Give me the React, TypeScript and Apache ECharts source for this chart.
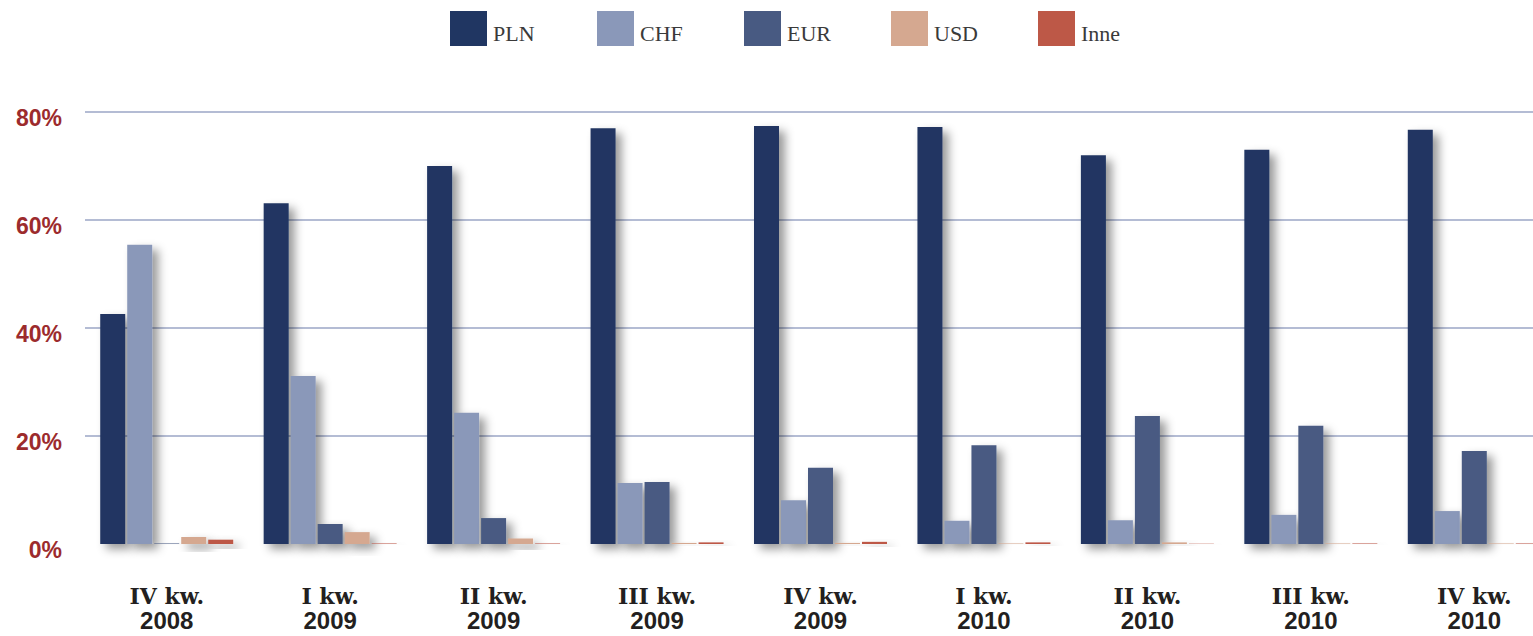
import React, { useEffect, useRef } from "react";
import * as echarts from "echarts";

// Quarterly share of new loans by currency (%)
const quarters = [
  ["IV kw.", "2008"],
  ["I kw.", "2009"],
  ["II kw.", "2009"],
  ["III kw.", "2009"],
  ["IV kw.", "2009"],
  ["I kw.", "2010"],
  ["II kw.", "2010"],
  ["III kw.", "2010"],
  ["IV kw.", "2010"],
];
const categories = quarters.map((q) => q.join("\n"));

const seriesNames = ["PLN", "CHF", "EUR", "USD", "Inne"];
const plnValues = [42.6, 63.1, 70.0, 77.0, 77.4, 77.2, 72.0, 73.0, 76.7];
const chfValues = [55.4, 31.1, 24.3, 11.3, 8.1, 4.3, 4.4, 5.4, 6.1];
const eurValues = [0.1, 3.7, 4.8, 11.5, 14.1, 18.3, 23.7, 21.9, 17.2];
const usdValues = [1.3, 2.2, 1.0, 0.2, 0.2, 0.1, 0.3, 0.1, 0.1];
const otherValues = [0.8, 0.1, 0.1, 0.3, 0.4, 0.3, 0.05, 0.1, 0.1];
const seriesValues = [plnValues, chfValues, eurValues, usdValues, otherValues];
const seriesColors = ["#203662", "#8a98b9", "#485a82", "#d5a890", "#bd5847"];

const yTicks = [0, 20, 40, 60, 80];
const gridColor = "#b4bcd4";

// Chart canvas is a bit wider than the visible frame so the last group keeps
// its full slot while the grid lines run to the frame's right edge.
const FRAME_W = 1533;
const CHART_W = 1560;
const CHART_H = 636;

export default function App() {
  const ref = useRef<HTMLDivElement>(null);

  useEffect(() => {
    if (!ref.current) return;
    const chart = echarts.init(ref.current, null, { renderer: "svg" });
    chart.setOption({
      animation: false,
      backgroundColor: "#ffffff",
      // one legend per currency so the items sit on an even pitch
      legend: seriesNames.map((name, i) => ({
        top: 11,
        left: 450 + i * 147,
        padding: 0,
        itemWidth: 37,
        itemHeight: 35,
        itemGap: 0,
        icon: "rect",
        data: [name],
        formatter: (n: string) => `{t|${n}}`,
        textStyle: {
          rich: {
            t: {
              fontFamily: "Liberation Serif",
              fontSize: 22,
              color: "#3a3a3a",
              padding: [10, 0, 0, 1],
            },
          },
        },
      })),
      grid: { left: 85, right: 4, top: 112, bottom: 92 },
      xAxis: {
        type: "category",
        data: categories,
        axisLine: { show: false },
        axisTick: { show: false },
        axisLabel: {
          margin: 40,
          interval: 0,
          formatter: (v: string) => {
            const [a, b] = v.split("\n");
            return `{q|${a}}\n{y|${b}}`;
          },
          rich: {
            q: {
              fontFamily: "DejaVu Serif",
              fontWeight: "bold",
              fontSize: 22,
              color: "#231f20",
              lineHeight: 24,
              align: "center",
            },
            y: {
              fontFamily: "Liberation Sans",
              fontWeight: "bold",
              fontSize: 24,
              color: "#231f20",
              lineHeight: 24,
              align: "center",
            },
          },
        },
      },
      yAxis: {
        type: "value",
        min: 0,
        max: 80,
        interval: 20,
        axisLine: { show: false },
        axisTick: { show: false },
        axisLabel: {
          margin: 23,
          formatter: (v: number) => `{p|${v}%}`,
          rich: {
            p: {
              fontFamily: "Liberation Sans",
              fontWeight: "bold",
              fontSize: 23,
              color: "#9c2b2d",
              padding: [12, 0, 0, 0],
            },
          },
        },
        splitLine: {
          show: true,
          lineStyle: {
            width: 2,
            color: yTicks.map((t) => (t === 0 ? "rgba(0,0,0,0)" : gridColor)),
          },
        },
      },
      series: seriesNames.map((name, i) => ({
        name,
        type: "bar",
        data: seriesValues[i],
        barWidth: 25,
        barGap: "8%",
        itemStyle: {
          color: seriesColors[i],
          shadowBlur: 10,
          shadowColor: "rgba(0,0,0,0.4)",
          shadowOffsetX: 6,
          shadowOffsetY: 5,
        },
      })),
    });
    return () => chart.dispose();
  }, []);

  return (
    <div
      style={{
        position: "fixed",
        left: 0,
        top: 0,
        width: FRAME_W,
        height: CHART_H,
        overflow: "hidden",
        background: "#ffffff",
      }}
    >
      <div ref={ref} style={{ width: CHART_W, height: CHART_H }} />
    </div>
  );
}
